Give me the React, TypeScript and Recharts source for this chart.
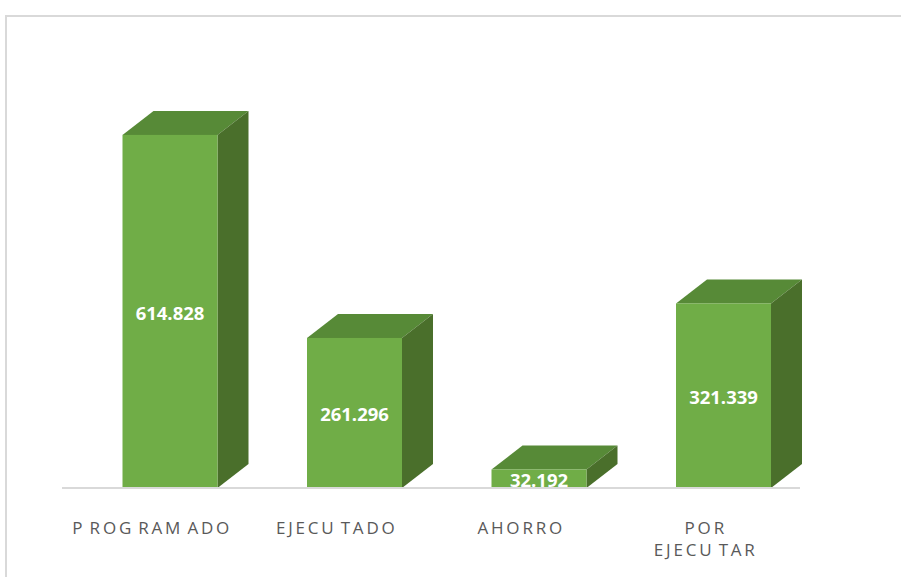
import { BarChart, Bar, XAxis, YAxis, LabelList } from "recharts";

const categories = ["PROGRAMADO", "EJECUTADO", "AHORRO", "POR EJECUTAR"];
const tickLabels = [["P ROG RAM ADO"], ["EJECU TADO"], ["AHORRO"], ["POR", "EJECU TAR"]];
const values = [614.828, 261.296, 32.192, 321.339];

const data = categories.map((name, i) => ({ name, value: values[i] }));

// 3D offset of the box (back face vs front face)
const DX = 31;
const DY = 24;
const SHIFT = 15.5;

const fmt = (v: number) => v.toFixed(3);

const Box3D = (props: any) => {
  const { x, y, width, height } = props;
  if (!height || height <= 0) return null;
  const fx = x + SHIFT;
  const top = `${fx},${y} ${fx + DX},${y - DY} ${fx + width + DX},${y - DY} ${fx + width},${y}`;
  const side = `${fx + width},${y} ${fx + width + DX},${y - DY} ${fx + width + DX},${y + height - DY} ${fx + width},${y + height}`;
  return (
    <g>
      <polygon points={top} fill="#578a37" />
      <polygon points={side} fill="#4a6f2b" />
      <rect x={fx} y={y} width={width} height={height} fill="#70ad47" />
    </g>
  );
};

const ValueLabel = (props: any) => {
  const { x, y, width, height, value } = props;
  return (
    <text x={x + SHIFT + width / 2} y={y + height / 2 + 1} textAnchor="middle" dominantBaseline="central" fill="#ffffff" fontFamily="'Open Sans', sans-serif" fontWeight={700} fontSize={18.5}>
      {fmt(value)}
    </text>
  );
};

const CategoryTick = ({ x, y, payload, index }: any) => {
  const lines = tickLabels[index] || [payload.value];
  return (
    <g>
      {lines.map((l: string, i: number) => (
        <text key={i} x={x - 2} y={y + 38 + i * 22} textAnchor="middle" fill="#595959" fontFamily="'Open Sans', sans-serif" fontSize={17} letterSpacing={2.8} wordSpacing={-3}>
          {l}
        </text>
      ))}
    </g>
  );
};

export default function App() {
  return (
    <div style={{ position: "absolute", left: 0, top: 0, width: 901, height: 577, overflow: "hidden", background: "#ffffff" }}>
      <div style={{ position: "absolute", left: 5, top: 15, width: 1000, height: 1000, border: "2px solid #d9d9d9", boxSizing: "border-box" }} />
      <div style={{ position: "absolute", left: 0, top: 0 }}>
        <BarChart width={901} height={577} data={data} margin={{ top: 86, right: 101, bottom: 29, left: 62 }} barCategoryGap={0}>
          <YAxis hide domain={[0, 700]} />
          <XAxis dataKey="name" height={60} tick={<CategoryTick />} tickLine={false} axisLine={{ stroke: "#d9d9d9", strokeWidth: 2 }} interval={0} />
          <Bar dataKey="value" barSize={95} shape={<Box3D />} isAnimationActive={false}>
            <LabelList dataKey="value" content={<ValueLabel />} />
          </Bar>
        </BarChart>
      </div>
    </div>
  );
}
